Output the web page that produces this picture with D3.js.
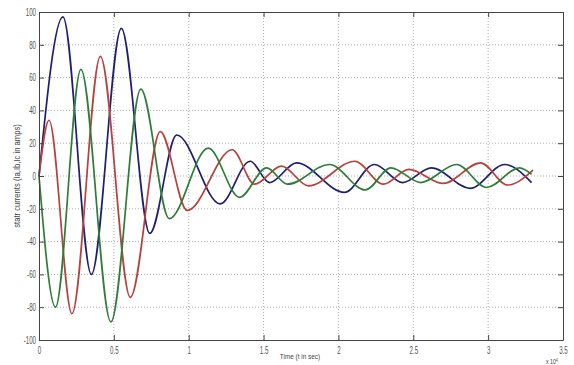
<!DOCTYPE html>
<html><head><meta charset="utf-8">
<script src="https://cdn.jsdelivr.net/npm/d3@7"></script>
<style>body{margin:0;background:#fff}svg{display:block}</style>
</head><body>
<script>
// time in units of 1e4 (axis shows x 10^4)
const xTicks = [0, 0.5, 1, 1.5, 2, 2.5, 3, 3.5];
const yTicks = [-100, -80, -60, -40, -20, 0, 20, 40, 60, 80, 100];
const xTickLabels = ["0", "0.5", "1", "1.5", "2", "2.5", "3", "3.5"];
const yTickLabels = ["-100", "-80", "-60", "-40", "-20", "0", "20", "40", "60", "80", "100"];
const seriesNames = ["Ia", "Ib", "Ic"];
// [t, current] (extrema and ends)
const blueData = [[0,0],[0.16,97],[0.35,-60],[0.55,90],[0.74,-35],[0.92,25],[1.21,-17],[1.41,9],[1.54,-4],[1.72,8],[2.04,-10],[2.24,7],[2.43,-4],[2.62,5],[2.88,-7.5],[3.11,7],[3.29,-4]];
const redData = [[0,0],[0.067,34],[0.22,-84],[0.41,73],[0.61,-74],[0.81,27],[0.99,-21],[1.29,16],[1.44,-5],[1.62,6],[1.80,-6],[2.11,9],[2.30,-5],[2.47,4],[2.70,-4.5],[2.95,8],[3.13,-5.5],[3.30,3.6]];
const greenData = [[0,0],[0.11,-80],[0.28,65],[0.48,-89],[0.68,53],[0.87,-26],[1.13,17],[1.34,-13],[1.52,5],[1.66,-5],[1.94,7],[2.18,-8.5],[2.35,5],[2.55,-4],[2.79,7],[2.99,-7],[3.21,5],[3.29,1]];
const colors = ["#1f1f70", "#b5423c", "#2f7d38"];

const W = 574, H = 365;
const m = {l: 39, t: 12, r: 11, b: 25};
const svg = d3.select("body").append("svg").attr("width", W).attr("height", H);
const x = d3.scaleLinear().domain([0, 3.5]).range([m.l, W - m.r]);
const y = d3.scaleLinear().domain([-100, 100]).range([H - m.b, m.t]);
const font = "'Liberation Sans',Arial,sans-serif";
const SX = 0.62; // condensed look of the reference's tick font

// grid
const g = svg.append("g");
g.selectAll(".gx").data(xTicks.slice(1, -1)).join("line")
  .attr("x1", d => x(d)).attr("x2", d => x(d)).attr("y1", m.t).attr("y2", H - m.b)
  .attr("stroke", "#999").attr("stroke-width", 0.8).attr("stroke-dasharray", "1,2");
g.selectAll(".gy").data(yTicks.slice(1, -1)).join("line")
  .attr("y1", d => y(d)).attr("y2", d => y(d)).attr("x1", m.l).attr("x2", W - m.r)
  .attr("stroke", "#999").attr("stroke-width", 0.8).attr("stroke-dasharray", "1,2");

// series
const line = d3.line().x(d => x(d[0])).y(d => y(d[1])).curve(d3.curveMonotoneX);
[blueData, redData, greenData].forEach((data, i) => {
  svg.append("path").datum(data).attr("d", line).attr("fill", "none")
    .attr("stroke", colors[i]).attr("stroke-width", 1.7).attr("class", seriesNames[i]);
});

// axes (MATLAB style: inward ticks on all sides)
const ax = svg.append("g").attr("font-family", font).attr("font-size", 10);
const axB = d3.axisBottom(x).tickValues(xTicks).tickFormat((d, i) => xTickLabels[i]).tickSizeInner(-5).tickSizeOuter(0).tickPadding(7);
const axL = d3.axisLeft(y).tickValues(yTicks).tickFormat((d, i) => yTickLabels[i]).tickSizeInner(-5).tickSizeOuter(0).tickPadding(3);
const axT = d3.axisTop(x).tickValues(xTicks).tickFormat("").tickSizeInner(-5).tickSizeOuter(0);
const axR = d3.axisRight(y).tickValues(yTicks).tickFormat("").tickSizeInner(-5).tickSizeOuter(0);
const gB = ax.append("g").attr("transform", `translate(0,${H - m.b})`).call(axB);
const gL = ax.append("g").attr("transform", `translate(${m.l},0)`).call(axL);
ax.append("g").attr("transform", `translate(0,${m.t})`).call(axT);
ax.append("g").attr("transform", `translate(${W - m.r},0)`).call(axR);
ax.selectAll(".domain").attr("stroke", "#444").attr("stroke-width", 1);
ax.selectAll(".tick line").attr("stroke", "#444");
ax.selectAll("text").attr("fill", "#555");
gB.selectAll(".tick text").attr("transform", `scale(${SX},1)`);
gL.selectAll(".tick text").each(function() {
  const tx = +d3.select(this).attr("x");
  d3.select(this).attr("transform", `translate(${tx},0) scale(${SX},1) translate(${-tx},0)`);
});

// labels
svg.append("text").attr("transform", `translate(300,359) scale(0.8,1)`).attr("text-anchor", "middle")
  .attr("font-family", font).attr("font-size", 8).attr("fill", "#444").text("Time (t in sec)");
const ex = svg.append("text").attr("transform", `translate(546,364) scale(0.8,1)`)
  .attr("font-family", font).attr("font-size", 6.5).attr("fill", "#444");
ex.append("tspan").text("x 10");
ex.append("tspan").attr("dy", -2.5).attr("font-size", 4.5).text("4");
svg.append("text").attr("transform", `translate(20,${y(0)}) rotate(-90) scale(0.9,1)`).attr("text-anchor", "middle")
  .attr("font-family", font).attr("font-size", 8.5).attr("fill", "#444").text("statr currents (Ia,Ib,Ic in amps)");
</script>
</body></html>
